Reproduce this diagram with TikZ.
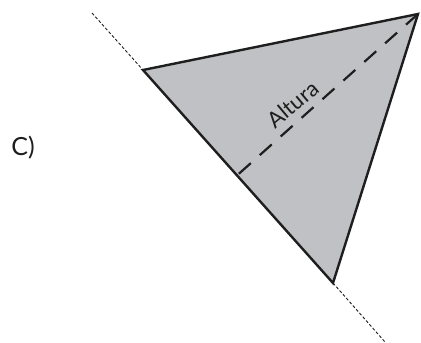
\documentclass[tikz,border=0pt]{standalone}
\usepackage{fontspec}
\setmainfont{Lato}
\usetikzlibrary{calc}
\definecolor{trifill}{RGB}{192,193,196}
\definecolor{ink}{RGB}{30,30,30}
\tikzset{
  triedge/.style={draw=ink, line width=2.4pt, line join=miter},
  altline/.style={draw=ink, line width=2.2pt, dash pattern=on 16pt off 12pt},
  extline/.style={draw=ink, line width=0.9pt, dash pattern=on 3pt off 2pt},
  lbl/.style={text=ink, inner sep=0pt}
}
\begin{document}
\begin{tikzpicture}[x=1pt,y=-1pt]
\useasboundingbox (0,0) rectangle (421,343);
\coordinate (A) at (143,70);
\coordinate (B) at (418,14);
\coordinate (C) at (333,283);
\coordinate (D1) at (92,13);
\coordinate (D2) at (385,342);
\coordinate (F) at ($(A)!(B)!(C)$);
\fill[trifill] (A) -- (B) -- (C) -- cycle;
\draw[altline] (B) -- (F);
\draw[extline] (D1) -- (A);
\draw[extline] (C) -- (D2);
\draw[triedge] (A) -- (B) -- (C) -- cycle;
\node[lbl, rotate=40, font=\fontsize{22}{26}\selectfont] (alt) at (293,104) {Altura};
\node[lbl, font=\fontsize{25}{29}\selectfont] (lab) at (23,148) {C)};
\end{tikzpicture}
\end{document}
